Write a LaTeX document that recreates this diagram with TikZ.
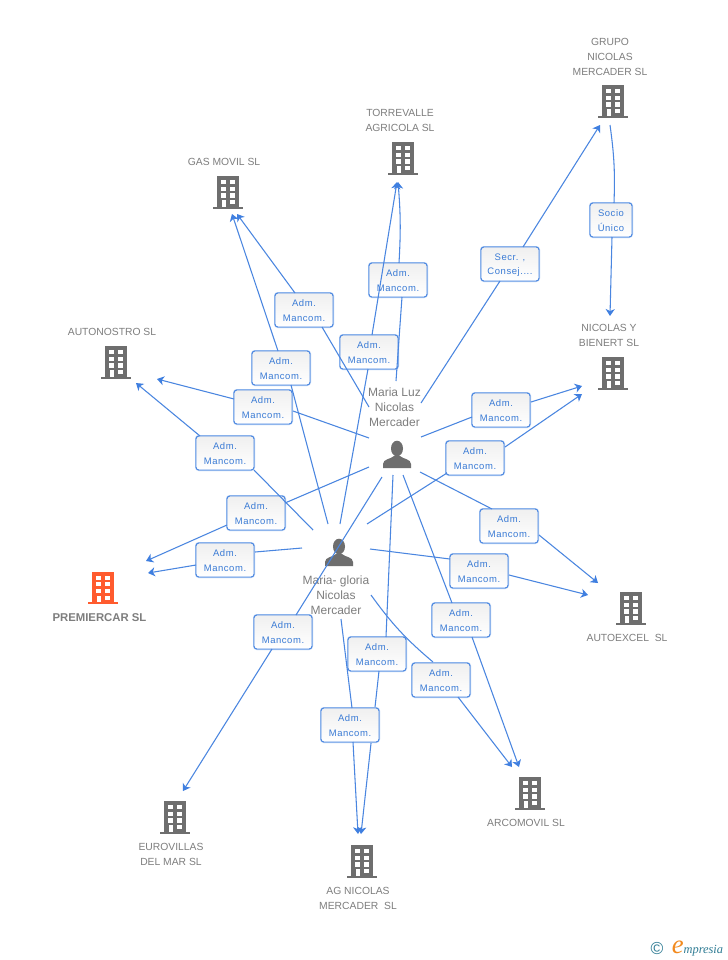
\documentclass[tikz,border=0pt]{standalone}
\usepackage{fontspec}
\setmainfont{Liberation Sans}
\newfontfamily\boxfont[LetterSpace=6]{Liberation Sans}
\newfontfamily\logofont{Liberation Serif}
\usetikzlibrary{arrows.meta}
\definecolor{edgeblue}{HTML}{4A86E0}
\definecolor{tipblue}{HTML}{3F7FE0}
\definecolor{boxtext}{HTML}{3A7BD5}
\definecolor{glow}{HTML}{A9C8F2}
\definecolor{labelgray}{HTML}{7E7E7E}
\definecolor{iconb}{HTML}{6E6E6E}
\definecolor{iconr}{HTML}{FF5B2E}
\definecolor{logoteal}{HTML}{2F7C94}
\definecolor{logoorange}{HTML}{F28A1E}
\tikzset{
  x=0.75pt,y=-0.75pt,
  relbox/.style={rounded corners=2.2pt,draw=edgeblue,line width=.7pt,top color=black!6,bottom color=white,
    minimum width=43.5pt,minimum height=25.5pt,inner sep=0pt,align=center,text=boxtext,
    font=\boxfont\fontsize{7.1}{11.2}\selectfont,
    preaction={draw=glow,line width=1.5pt}},
  seg/.style={draw=edgeblue,line width=.8pt},
  arr/.style={seg,-{Stealth[length=5.2pt,width=6.8pt,inset=1.5pt,color=tipblue]}},
  name label/.style={align=center,text=labelgray,inner sep=0pt,font=\fontsize{7.75}{11.25}\selectfont},
  person label/.style={align=center,text=labelgray,inner sep=0pt,font=\fontsize{9}{11.25}\selectfont},
  anchorpt/.style={inner sep=0pt,minimum size=0pt},
}
% building: name, position, colour
\newcommand{\building}[3]{%
  \node[anchorpt] (#1) at (#2) {};
  \begin{scope}[shift={(#2)}]
    \fill[#3] (-10.3,-16) rectangle (11.7,15);
    \fill[#3] (-14.3,14.5) rectangle (15.7,16.5);
    \foreach \wy in {-12,-5.5,1.2}{
      \fill[white] (-6.3,\wy) rectangle (-1.3,\wy+4.4);
      \fill[white] (3.3,\wy) rectangle (8.3,\wy+4.4);
    }
    \fill[white] (3.3,8) rectangle (8.3,12.4);
    \fill[white] (-4.8,8) rectangle (-1.3,14.5);
  \end{scope}}
% person: name, position
\newcommand{\person}[2]{%
  \node[anchorpt] (#1) at (#2) {};
  \begin{scope}[shift={(#2)}]
    \fill[iconb] (0,-6.5) ellipse (6 and 7.8);
    \fill[iconb] (-14,13) -- (-14,9) .. controls (-14,4) and (-6,4) .. (-3,1) -- (3,1)
       .. controls (6,4) and (14,4) .. (14,9) -- (14,13) -- cycle;
  \end{scope}}
\newcommand{\relbox}[3]{\node[relbox] (#1) at (#2) {\rule{0pt}{6.7pt}#3};}
\newcommand{\adm}[2]{\relbox{#1}{#2}{Adm.\\Mancom.}}
% start node + offset, box, offset on the box
\newcommand{\inseg}[4]{\draw[seg] ([shift={(#2)}]#1.center) -- ([shift={(#4)}]#3.center);}
% box + offset, end node + offset
\newcommand{\outseg}[4]{\draw[arr] ([shift={(#2)}]#1.center) -- ([shift={(#4)}]#3.center);}
\newcommand{\link}[7]{\inseg{#1}{#2}{#3}{#4}\outseg{#3}{#5}{#6}{#7}}
\begin{document}
\begin{tikzpicture}
\useasboundingbox (0,0) rectangle (728,960);
\fill[white] (0,0) rectangle (728,960);
% entities
\building{grupo}{612,101}{iconb}
\building{torre}{402,158}{iconb}
\building{gas}{227,192}{iconb}
\building{auton}{115,362}{iconb}
\building{bienert}{612,373}{iconb}
\building{prem}{102,587.5}{iconr}
\building{autoex}{630,608}{iconb}
\building{arco}{529,793}{iconb}
\building{euro}{174,817}{iconb}
\building{agn}{361,861}{iconb}
\person{luz}{397,455}
\person{gloria}{339,553}
% names
\node[name label] (tgrupo) at (610,57.3) {GRUPO\\NICOLAS\\MERCADER SL};
\node[name label] (ttorre) at (400,120) {TORREVALLE\\AGRICOLA SL};
\node[name label] (tgas) at (224,161.7) {GAS MOVIL SL};
\node[name label] (tauton) at (112,331.5) {AUTONOSTRO SL};
\node[name label] (tbienert) at (609,335.2) {NICOLAS Y\\BIENERT SL};
\node[name label,font=\bfseries\fontsize{8.5}{11.25}\selectfont] (tprem) at (99.5,617.3) {PREMIERCAR SL};
\node[name label] (tautoex) at (627,637.6) {AUTOEXCEL\ \ SL};
\node[name label] (tarco) at (526,822.6) {ARCOMOVIL SL};
\node[name label] (teuro) at (171,854) {EUROVILLAS\\DEL MAR SL};
\node[name label] (tagn) at (358,898) {AG NICOLAS\\MERCADER\ \ SL};
\node[person label] (tluz) at (394.5,407.5) {Maria Luz\\Nicolas\\Mercader};
\node[person label] (tgloria) at (336,595.5) {Maria- gloria\\Nicolas\\Mercader};
% this segment runs behind the box a350
\adm{a377}{377,654}
\outseg{a377}{2,17}{agn}{0,-27}
% relation boxes
\relbox{secr}{510,264}{Secr. ,\\Consej....}
\node[relbox,minimum width=31.5pt] (socio) at (611,220) {\rule{0pt}{6.7pt}Socio\\Único};
\adm{a398}{398,280}
\adm{a304}{304,310}
\adm{a369}{369,352}
\adm{a281}{281,368}
\adm{a263}{263,407}
\adm{a225}{225,453}
\adm{a256}{256,513}
\adm{a225b}{225,560}
\adm{a283}{283,632}
\adm{a501}{501,410}
\adm{a475}{475,458}
\adm{a509}{509,526}
\adm{a479}{479,571}
\adm{a461}{461,620}
\adm{a441}{441,680}
\adm{a350}{350,725}
% Maria Luz
\inseg{luz}{-1,-74}{a398}{4,17}
\draw[arr] ([shift={(1,-17)}]a398.center) to[bend right=4] ([shift={(-4,24)}]torre.center);
\link{luz}{-28,-48}{a304}{18,17}{-9,-17}{gas}{10,22}
\link{luz}{-28,-17}{a263}{30,4}{-29,-8}{auton}{42,17}
\link{luz}{-28,12}{a256}{29,-10}{-29,12}{prem}{44,-26.5}
\inseg{luz}{-4,20}{a377}{9,-17}
\link{luz}{6,20}{a461}{-9,-17}{11,17}{arco}{-10,-26}
\link{luz}{23,17}{a509}{-17,-17}{30,9}{autoex}{-32,-25}
\link{luz}{24,-18}{a501}{-29,7}{30,-8}{bienert}{-30,13}
\link{luz}{24,-52}{secr}{-10,17}{13,-17}{grupo}{-12,24}
\link{luz}{-15,22}{a283}{13,-17}{-11,17}{euro}{9,-26}
% Maria- gloria
\link{gloria}{28,-29}{a475}{-28,15}{30,-11}{bienert}{-30,21}
\link{gloria}{1,-29}{a369}{-1,17}{3,-17}{torre}{-5,24}
\link{gloria}{-11,-29}{a281}{10,17}{-3,-17}{gas}{5,22}
\link{gloria}{-26,-23}{a225}{29,17}{-25,-17}{auton}{21,21}
\link{gloria}{-37,-5}{a225b}{30,-8}{-29,5}{prem}{46,-14.5}
\link{gloria}{31,-4}{a479}{-29,-12}{30,4}{autoex}{-42,-13}
\draw[seg] ([shift={(32,42)}]gloria.center) to[bend right=7] ([shift={(-8,-18)}]a441.center);
\outseg{a441}{17,17}{arco}{-17,-26}
\link{gloria}{2,66}{a350}{2,-17}{3,17}{agn}{-3,-27}
% Grupo to Bienert
\draw[seg] ([shift={(-2,24)}]grupo.center) to[bend left=5] ([shift={(3,-17)}]socio.center);
\outseg{socio}{1,17}{bienert}{-2,-57}
% logo
\node[anchorpt,text=logoteal,font=\fontsize{13}{13}\selectfont] (copy) at (657,949) {©};
\node[anchorpt,anchor=base west,text=logoteal,font=\logofont\itshape\fontsize{9.3}{9.3}\selectfont] (logo) at (671.5,953)
  {{\color{logoorange}\fontsize{20}{20}\selectfont e}mpresia};
\end{tikzpicture}
\end{document}
